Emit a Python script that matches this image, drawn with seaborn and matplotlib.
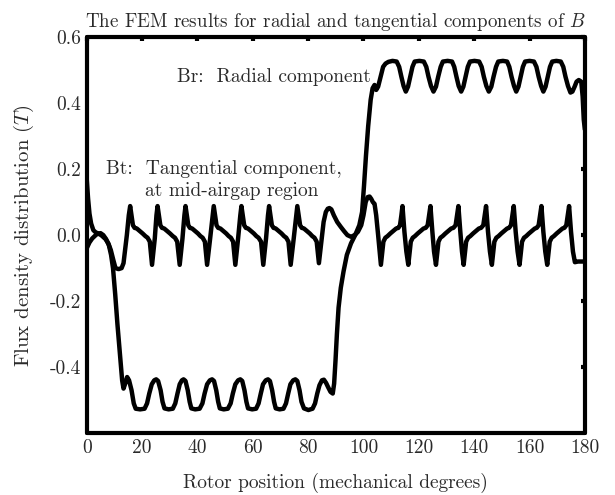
import matplotlib
matplotlib.use("Agg")
import matplotlib.pyplot as plt
import seaborn as sns
import pandas as pd

# Radial component Br (T) against rotor position (mechanical degrees)
br_deg = [
    0.0, 1.0, 2.0, 3.5, 5.0, 6.0, 7.0, 8.0, 8.8, 9.5, 10.3, 11.1, 12.0, 12.8, 13.3, 13.9, 14.6, 15.3,
    16.2, 17.0, 17.7, 19.3, 20.9, 21.8, 22.6, 23.5, 24.4, 25.1, 25.8, 26.7, 27.4, 28.1,
    29.6, 31.1, 32.0, 32.8, 33.6, 34.4, 35.0, 35.7, 36.5, 37.2, 37.8,
    39.2, 40.8, 41.8, 42.6, 43.5, 44.5, 45.3, 46.0, 46.8, 47.5, 48.1,
    49.5, 51.0, 52.0, 52.8, 53.7, 54.7, 55.5, 56.2, 57.0, 57.7, 58.3,
    59.8, 61.2, 62.1, 62.9, 63.7, 64.7, 65.5, 66.2, 67.0, 67.7, 68.3,
    69.7, 71.1, 72.0, 72.8, 73.6, 74.6, 75.4, 76.1, 76.9, 77.6, 78.5,
    80.1, 81.6, 82.5, 83.3, 84.1, 85.0, 85.7, 86.5, 87.3, 88.1, 88.9,
    89.4, 89.9, 90.4, 91.0, 91.8, 92.8, 94.0, 95.5, 97.0, 98.5, 99.5, 100.2, 100.9, 101.7, 102.6,
    103.3, 104.0, 104.6, 105.3, 106.2, 107.1, 108.0, 109.0,
    110.5, 112.0, 112.9, 113.7, 114.5, 115.3, 116.1, 116.9, 117.7, 118.5,
    120.2, 121.8, 122.7, 123.5, 124.4, 125.3, 126.2, 127.0, 127.9, 128.7,
    130.4, 132.0, 132.8, 133.6, 134.4, 135.3, 136.1, 136.9, 137.7, 138.5,
    140.1, 141.8, 142.7, 143.5, 144.4, 145.3, 146.2, 147.0, 147.9, 148.7,
    150.4, 151.9, 152.7, 153.5, 154.4, 155.2, 156.0, 156.8, 157.6, 158.4,
    160.0, 161.6, 162.5, 163.3, 164.2, 165.0, 165.8, 166.6, 167.4, 168.2,
    169.7, 171.3, 172.2, 173.0, 173.9, 174.8, 175.5, 176.3, 177.0, 177.8, 178.7, 179.2, 179.6, 180.0,
]
br_tesla = [
    -0.040, -0.022, -0.010, 0.002, 0.006, 0.000, -0.012, -0.030, -0.060, -0.100, -0.180, -0.270, -0.360, -0.440, -0.465, -0.450, -0.430, -0.440,
    -0.470, -0.510, -0.526, -0.528, -0.526, -0.510, -0.480, -0.452, -0.440, -0.437, -0.442, -0.470, -0.505, -0.525,
    -0.528, -0.526, -0.510, -0.480, -0.452, -0.440, -0.437, -0.442, -0.470, -0.505, -0.525,
    -0.528, -0.526, -0.510, -0.480, -0.452, -0.440, -0.437, -0.442, -0.470, -0.505, -0.525,
    -0.528, -0.526, -0.510, -0.480, -0.452, -0.440, -0.437, -0.442, -0.470, -0.505, -0.525,
    -0.528, -0.526, -0.510, -0.480, -0.452, -0.440, -0.437, -0.442, -0.470, -0.505, -0.525,
    -0.528, -0.526, -0.510, -0.480, -0.452, -0.440, -0.437, -0.442, -0.470, -0.505, -0.525,
    -0.530, -0.526, -0.510, -0.480, -0.455, -0.440, -0.438, -0.448, -0.462, -0.475, -0.480,
    -0.450, -0.380, -0.300, -0.220, -0.160, -0.110, -0.060, -0.025, 0.000, 0.030, 0.070, 0.150, 0.240, 0.330, 0.410,
    0.445, 0.455, 0.440, 0.450, 0.480, 0.510, 0.520, 0.525,
    0.528, 0.526, 0.510, 0.480, 0.452, 0.435, 0.450, 0.480, 0.510, 0.526,
    0.528, 0.526, 0.510, 0.480, 0.452, 0.435, 0.450, 0.480, 0.510, 0.526,
    0.528, 0.526, 0.510, 0.480, 0.452, 0.435, 0.450, 0.480, 0.510, 0.526,
    0.528, 0.526, 0.510, 0.480, 0.452, 0.435, 0.450, 0.480, 0.510, 0.526,
    0.528, 0.526, 0.510, 0.480, 0.452, 0.435, 0.450, 0.480, 0.510, 0.526,
    0.528, 0.526, 0.510, 0.480, 0.452, 0.435, 0.450, 0.480, 0.510, 0.526,
    0.528, 0.526, 0.510, 0.480, 0.452, 0.432, 0.435, 0.450, 0.465, 0.470, 0.465, 0.420, 0.350, 0.320,
]

# Tangential component Bt (T) at mid-airgap
bt_deg = [
    0.0, 0.5, 1.0, 1.6, 2.4, 3.3, 4.3, 5.5, 6.8, 7.8, 8.7, 9.6, 10.4, 11.5, 12.6, 13.3, 14.5, 15.2, 15.7,
    16.2, 16.7, 17.3, 18.1, 19.2, 20.2, 21.2, 22.0, 22.8, 23.6, 24.6, 25.2, 25.6,
    26.1, 26.6, 27.2, 28.0, 29.1, 30.1, 31.1, 31.9, 32.7, 33.6, 34.6, 35.3, 35.7,
    36.2, 36.7, 37.3, 38.1, 39.2, 40.2, 41.1, 41.9, 42.7, 43.5, 44.6, 45.5, 45.9,
    46.4, 46.9, 47.5, 48.3, 49.4, 50.4, 51.3, 52.1, 52.9, 53.7, 54.7, 55.5, 55.9,
    56.4, 56.9, 57.5, 58.3, 59.4, 60.4, 61.3, 62.1, 63.0, 63.8, 64.8, 65.5, 65.9,
    66.4, 66.9, 67.5, 68.3, 69.4, 70.4, 71.3, 72.1, 72.9, 73.7, 74.8, 75.7, 76.1,
    76.6, 77.1, 77.7, 78.5, 79.6, 80.6, 81.5, 82.3, 83.1, 83.9, 84.8, 85.6, 86.4, 87.1, 87.7, 88.4,
    89.3, 90.5, 91.8, 93.0, 94.2, 95.5, 96.8, 98.0, 99.2, 100.0, 100.8, 101.5, 102.2, 102.8, 103.4, 104.0, 104.6, 105.3,
    106.3, 107.2, 107.9, 108.7, 109.7, 110.7, 111.8, 112.6, 113.2, 113.7, 114.1, 114.8, 115.5,
    116.2, 117.1, 117.8, 118.6, 119.6, 120.6, 121.7, 122.5, 123.2, 123.7, 124.2, 124.9, 125.5,
    126.2, 127.1, 127.8, 128.6, 129.6, 130.6, 131.7, 132.5, 133.3, 133.8, 134.3, 135.0, 135.6,
    136.2, 137.1, 137.8, 138.6, 139.6, 140.6, 141.7, 142.5, 143.3, 143.8, 144.3, 145.0, 145.7,
    146.4, 147.3, 148.0, 148.8, 149.8, 150.8, 151.9, 152.6, 153.3, 153.8, 154.3, 155.0, 155.7,
    156.4, 157.3, 158.0, 158.8, 159.8, 160.8, 161.9, 162.6, 163.3, 163.8, 164.3, 165.0, 165.7,
    166.4, 167.3, 168.0, 168.8, 169.8, 170.8, 171.9, 172.6, 173.3, 173.8, 174.3, 175.0, 175.7,
    176.4, 177.5, 178.8, 179.4,
]
bt_tesla = [
    0.170, 0.110, 0.065, 0.035, 0.015, 0.008, 0.005, -0.002, -0.012, -0.025, -0.045, -0.075, -0.100, -0.103, -0.100, -0.085, 0.000, 0.060, 0.088,
    0.060, 0.030, 0.022, 0.020, 0.012, 0.005, -0.003, -0.008, -0.020, -0.090, -0.010, 0.060, 0.088,
    0.060, 0.030, 0.022, 0.020, 0.012, 0.005, -0.003, -0.008, -0.020, -0.090, -0.010, 0.060, 0.088,
    0.060, 0.030, 0.022, 0.020, 0.012, 0.005, -0.003, -0.008, -0.020, -0.090, -0.010, 0.060, 0.088,
    0.060, 0.030, 0.022, 0.020, 0.012, 0.005, -0.003, -0.008, -0.020, -0.090, -0.010, 0.060, 0.088,
    0.060, 0.030, 0.022, 0.020, 0.012, 0.005, -0.003, -0.008, -0.020, -0.090, -0.010, 0.060, 0.088,
    0.060, 0.030, 0.022, 0.020, 0.012, 0.005, -0.003, -0.008, -0.020, -0.090, -0.010, 0.060, 0.088,
    0.060, 0.030, 0.022, 0.020, 0.012, 0.005, -0.003, -0.008, -0.020, -0.085, -0.020, 0.040, 0.070, 0.080, 0.082, 0.078,
    0.060, 0.040, 0.025, 0.012, 0.000, -0.005, 0.000, 0.010, 0.030, 0.060, 0.100, 0.115, 0.117, 0.110, 0.100, 0.095, 0.060, 0.000,
    -0.090, -0.020, -0.008, -0.003, 0.005, 0.012, 0.020, 0.022, 0.030, 0.060, 0.088, 0.010, -0.050,
    -0.090, -0.020, -0.008, -0.003, 0.005, 0.012, 0.020, 0.022, 0.030, 0.060, 0.088, 0.010, -0.050,
    -0.090, -0.020, -0.008, -0.003, 0.005, 0.012, 0.020, 0.022, 0.030, 0.060, 0.088, 0.010, -0.050,
    -0.090, -0.020, -0.008, -0.003, 0.005, 0.012, 0.020, 0.022, 0.030, 0.060, 0.088, 0.010, -0.050,
    -0.090, -0.020, -0.008, -0.003, 0.005, 0.012, 0.020, 0.022, 0.030, 0.060, 0.088, 0.010, -0.050,
    -0.090, -0.020, -0.008, -0.003, 0.005, 0.012, 0.020, 0.022, 0.030, 0.060, 0.088, 0.010, -0.050,
    -0.090, -0.020, -0.008, -0.003, 0.005, 0.012, 0.020, 0.022, 0.030, 0.060, 0.088, 0.010, -0.050,
    -0.082, -0.080, -0.080, -0.080,
]

x_ticks = [0, 20, 40, 60, 80, 100, 120, 140, 160, 180]
y_ticks = [-0.4, -0.2, 0.0, 0.2, 0.4, 0.6]
y_tick_labels = ["-0.4", "-0.2", "0.0", "0.2", "0.4", "0.6"]

sns.set_theme(style="white")
plt.rcParams["font.family"] = ["cmr10", "DejaVu Serif"]
plt.rcParams["mathtext.fontset"] = "cm"
plt.rcParams["axes.unicode_minus"] = False

df_br = pd.DataFrame({"deg": br_deg, "B": br_tesla})
df_bt = pd.DataFrame({"deg": bt_deg, "B": bt_tesla})

fig = plt.figure(figsize=(6.15, 4.95), dpi=100)
ax = fig.add_axes([0.141, 0.125, 0.810, 0.800])

line_kw = dict(color="black", linewidth=3.2, sort=False, estimator=None,
               solid_joinstyle="round", solid_capstyle="round")
sns.lineplot(data=df_br, x="deg", y="B", ax=ax, **line_kw)
sns.lineplot(data=df_bt, x="deg", y="B", ax=ax, **line_kw)

ax.set_xlim(0, 180)
ax.set_ylim(-0.6, 0.6)
ax.set_xticks(x_ticks)
ax.set_xticklabels([str(v) for v in x_ticks])
ax.set_yticks(y_ticks)
ax.set_yticklabels(y_tick_labels)

text_color = "#2a2a2a"
ax.tick_params(direction="in", length=3, width=3, color="black",
               top=True, right=True, labelsize=14, labelcolor=text_color, pad=4)
for side in ax.spines.values():
    side.set_linewidth(3.0)
    side.set_color("black")
    side.set_capstyle("round")
    side.set_joinstyle("round")

ax.set_xlabel("Rotor position (mechanical degrees)", fontsize=14, color=text_color, labelpad=12)
ax.set_ylabel("Flux density distribution ($T$)", fontsize=15, color=text_color, labelpad=10)
ax.set_title("The FEM results for radial and tangential components of $B$",
             fontsize=13.7, color=text_color, pad=7)

ax.text(102.5, 0.48, "Br:  Radial component", ha="right", va="center",
        fontsize=14, color=text_color)
ax.text(7.0, 0.20, "Bt:  Tangential component,", ha="left", va="center",
        fontsize=14, color=text_color)
ax.text(21.0, 0.133, "at mid-airgap region", ha="left", va="center",
        fontsize=14, color=text_color)

fig.savefig("out.png", dpi=100, facecolor="white")
